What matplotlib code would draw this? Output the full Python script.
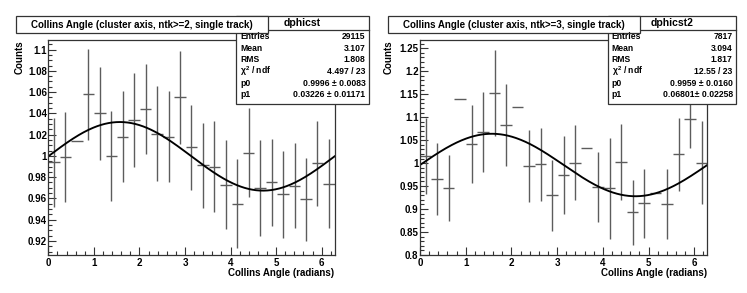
import numpy as np
import matplotlib
matplotlib.use('Agg')
import matplotlib.pyplot as plt
from matplotlib.patches import Rectangle
from matplotlib.ticker import MultipleLocator, FuncFormatter

plt.rcParams['font.family'] = ['Liberation Sans', 'DejaVu Sans']
plt.rcParams['font.weight'] = 'bold'
plt.rcParams['mathtext.default'] = 'regular'

# ---- data ----
nbins = 25
# ntk>=2 histogram (dphicst)
counts_ntk2 = [0.994, 0.999, 1.014, 1.058, 1.040, 1.000, 1.018, 1.034, 1.044, 1.021,
               1.018, 1.055, 1.008, 0.991, 0.990, 0.973, 0.955, 1.003, 0.970, 0.975,
               0.964, 0.972, 0.959, 0.993, 0.974]
errors_ntk2 = [0.042, 0.042, 0.0, 0.043, 0.044, 0.042, 0.043, 0.044, 0.042, 0.045,
               0.043, 0.044, 0.040, 0.040, 0.043, 0.042, 0.042, 0.042, 0.045, 0.041,
               0.041, 0.040, 0.039, 0.040, 0.042]
# ntk>=3 histogram (dphicst2)
counts_ntk3 = [1.015, 0.965, 0.945, 1.139, 1.041, 1.068, 1.152, 1.083, 1.122, 0.994,
               0.997, 0.930, 0.975, 1.001, 1.034, 0.948, 0.945, 1.003, 0.893, 0.913,
               0.935, 0.911, 1.019, 1.095, 1.001]
errors_ntk3 = [0.083, 0.079, 0.072, 0.0, 0.085, 0.087, 0.094, 0.089, 0.0, 0.079,
               0.080, 0.077, 0.085, 0.082, 0.0, 0.077, 0.110, 0.083, 0.071, 0.075,
               0.0, 0.077, 0.080, 0.063, 0.090]

# fit p0 + p1*sin(phi)
fit_ntk2 = (0.9996, 0.03226)
fit_ntk3 = (0.9959, 0.06801)

titles = ['Collins Angle (cluster axis, ntk>=2, single track)',
          'Collins Angle (cluster axis, ntk>=3, single track)']
hist_names = ['dphicst', 'dphicst2']
stat_labels = ['Entries', 'Mean', 'RMS', r'$\chi^{2}$ / ndf', 'p0', 'p1']
stats_ntk2 = ['29115', '3.107', '1.808', '4.497 / 23', '0.9996 \u00b1 0.0083', '0.03226 \u00b1 0.01171']
stats_ntk3 = ['7817', '3.094', '1.817', '12.55 / 23', '0.9959 \u00b1 0.0160', '0.06801\u00b1 0.02258']

W, H = 747, 293
fig = plt.figure(figsize=(W / 100, H / 100), dpi=100)


def fx(px):
    return px / W


def fy(py):
    return 1 - py / H


edges = np.linspace(0, 2 * np.pi, nbins + 1)
centers = 0.5 * (edges[:-1] + edges[1:])
halfw = 0.5 * (edges[1] - edges[0])

panels = [
    dict(x0=48.3, x1=334.6, ylim=(0.9068, 1.109), ymaj=0.02, ymin=0.005,
         counts=counts_ntk2, errors=errors_ntk2, fit=fit_ntk2, stats=stats_ntk2,
         tbox=(16, 268), sbox=(236, 368.5), ylab_x=20),
    dict(x0=420.0, x1=707.3, ylim=(0.8, 1.268), ymaj=0.05, ymin=0.01,
         counts=counts_ntk3, errors=errors_ntk3, fit=fit_ntk3, stats=stats_ntk3,
         tbox=(388, 640), sbox=(607.7, 735.7), ylab_x=389),
]

ytop, ybot = 40, 255
frame_col = '#333333'

for k, p in enumerate(panels):
    ax = fig.add_axes([fx(p['x0']), fy(ybot), (p['x1'] - p['x0']) / W, (ybot - ytop) / H])
    ax.errorbar(centers, p['counts'], xerr=halfw, yerr=p['errors'], fmt='none',
                ecolor='#5c5c5c', elinewidth=1.0, capsize=0)
    phi = np.linspace(0, 2 * np.pi, 300)
    ax.plot(phi, p['fit'][0] + p['fit'][1] * np.sin(phi), color='black', lw=1.35)
    ax.set_xlim(0, 2 * np.pi)
    ax.set_ylim(*p['ylim'])
    ax.xaxis.set_major_locator(MultipleLocator(1))
    ax.xaxis.set_minor_locator(MultipleLocator(0.2))
    ax.yaxis.set_major_locator(MultipleLocator(p['ymaj']))
    ax.yaxis.set_minor_locator(MultipleLocator(p['ymin']))
    ax.yaxis.set_major_formatter(FuncFormatter(lambda v, pos: '%g' % round(v, 4)))
    ax.tick_params(which='both', direction='in', top=False, right=False,
                   colors=frame_col, labelcolor='black', labelsize=7, width=0.8)
    ax.tick_params(which='major', length=5.5)
    ax.tick_params(which='minor', length=2.7)
    ax.tick_params(axis='x', pad=2)
    ax.tick_params(axis='y', pad=1)
    for s in ax.spines.values():
        s.set_color(frame_col)
        s.set_linewidth(0.9)
    for lab in ax.get_xticklabels() + ax.get_yticklabels():
        lab.set_fontweight('bold')

    # axis titles
    fig.text(fx(p['x1']), fy(273), 'Collins Angle (radians)', ha='right', va='center',
             fontsize=7, fontweight='bold')
    fig.text(fx(p['ylab_x']), fy(ytop), 'Counts', rotation=90, ha='center', va='top',
             fontsize=7, fontweight='bold')

    # stat box
    sx0, sx1 = p['sbox']
    sy0, sy1 = 16, 104
    fig.patches.append(Rectangle((fx(sx0), fy(sy1)), (sx1 - sx0) / W, (sy1 - sy0) / H,
                                 transform=fig.transFigure, facecolor='white',
                                 edgecolor=frame_col, lw=0.9, zorder=5))
    fig.lines.append(plt.Line2D([fx(sx0), fx(sx1)], [fy(30), fy(30)], transform=fig.transFigure,
                                color=frame_col, lw=0.9, zorder=6))
    fig.text(fx((sx0 + sx1) / 2), fy(22.5), hist_names[k], ha='center', va='center',
             fontsize=7.5, fontweight='bold', zorder=8)
    row_y = np.linspace(36.5, 95, 6)
    for lab, val, ry in zip(stat_labels, p['stats'], row_y):
        fig.text(fx(sx0 + 4), fy(ry), lab, ha='left', va='center', fontsize=6.2,
                 fontweight='bold', zorder=8)
        fig.text(fx(sx1 - 3), fy(ry), val, ha='right', va='center', fontsize=6.2,
                 fontweight='bold', zorder=8)

    # title box (drawn over the stat box corner)
    tx0, tx1 = p['tbox']
    fig.patches.append(Rectangle((fx(tx0), fy(33.3)), (tx1 - tx0) / W, (33.3 - 16) / H,
                                 transform=fig.transFigure, facecolor='white',
                                 edgecolor=frame_col, lw=0.9, zorder=7))
    fig.text(fx((tx0 + tx1) / 2), fy(24.7), titles[k], ha='center', va='center',
             fontsize=7, fontweight='bold', zorder=8)

fig.savefig('out.png', dpi=100)
